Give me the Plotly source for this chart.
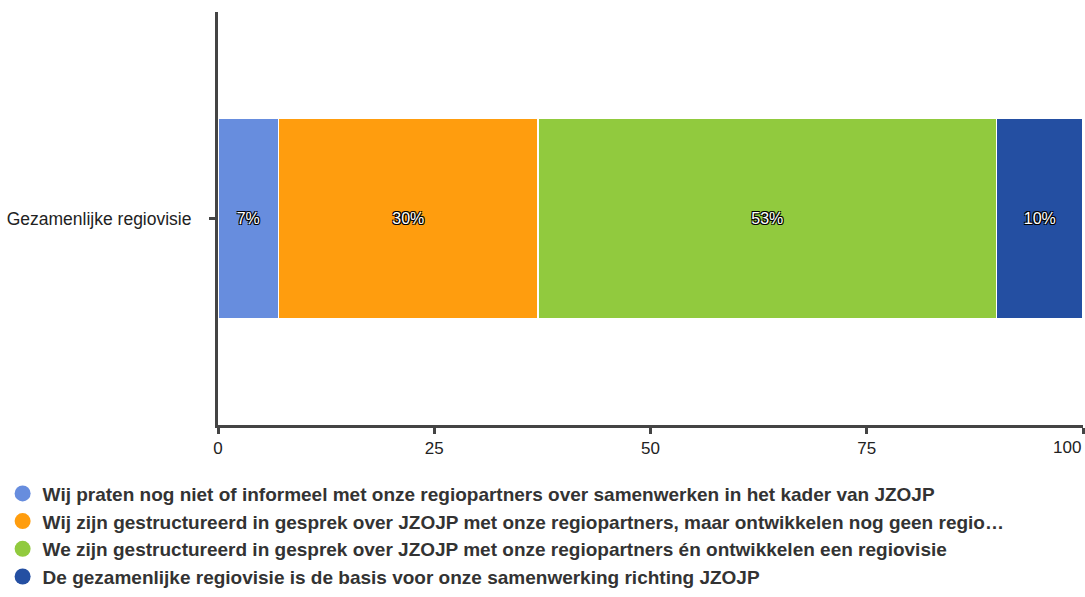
import plotly.graph_objects as go

categories = ['Gezamenlijke regiovisie']
answers = [
    'Wij praten nog niet of informeel met onze regiopartners over samenwerken in het kader van JZOJP',
    'Wij zijn gestructureerd in gesprek over JZOJP met onze regiopartners, maar ontwikkelen nog geen regio…',
    'We zijn gestructureerd in gesprek over JZOJP met onze regiopartners én ontwikkelen een regiovisie',
    'De gezamenlijke regiovisie is de basis voor onze samenwerking richting JZOJP',
]
percentages = [7, 30, 53, 10]
colors = ['#678DDE', '#FF9D0E', '#91CA3E', '#244FA2']
x_ticks = [0, 25, 50, 75, 100]

outline = '-1px -1px 0 #000, 1px -1px 0 #000, -1px 1px 0 #000, 1px 1px 0 #000'

fig = go.Figure()
for name, val, col in zip(answers, percentages, colors):
    fig.add_trace(go.Bar(
        y=categories, x=[val], orientation='h', name=name,
        marker=dict(color=col, line=dict(color='white', width=1.5)),
        text=[f'{val}%'], textposition='inside', insidetextanchor='middle',
        textfont=dict(family='Liberation Sans', size=16, color='white', shadow=outline),
        showlegend=False, hoverinfo='skip',
    ))

# circle markers for the legend
for name, col in zip(answers, colors):
    fig.add_trace(go.Scatter(
        x=[None], y=[None], mode='markers', name=name,
        marker=dict(symbol='circle', size=18, color=col),
    ))

# last tick label is pulled inside the chart, like the original
tick_text = [str(t) for t in x_ticks[:-1]] + ['']
fig.add_annotation(x=x_ticks[-1], xref='x', y=0, yref='paper', yanchor='top', xanchor='right',
                   yshift=-11, text=str(x_ticks[-1]), showarrow=False,
                   font=dict(family='Liberation Sans', size=17, color='#222'))

fig.update_layout(
    width=1085, height=597,
    barmode='stack', bargap=0.516,
    plot_bgcolor='white', paper_bgcolor='white',
    margin=dict(l=216, r=2, t=12, b=171),
    font=dict(family='Liberation Sans', color='#222'),
    xaxis=dict(range=[0, 100], tickvals=x_ticks, ticktext=tick_text, showgrid=False, zeroline=False,
               showline=True, linecolor='#444', linewidth=3,
               ticks='outside', ticklen=6, tickwidth=3, tickcolor='#444',
               tickfont=dict(size=17, color='#222')),
    yaxis=dict(showgrid=False, zeroline=False, showline=True, linecolor='#444', linewidth=3,
               ticks='outside', ticklen=6, tickwidth=3, tickcolor='#444',
               ticklabelstandoff=14,
               tickfont=dict(size=17.5, color='#222'), range=[-0.5, 0.5]),
    legend=dict(orientation='v', x=-0.249, xanchor='left', y=-0.12, yanchor='top',
                traceorder='normal',
                font=dict(family='Liberation Sans', size=19, color='#333', weight='bold'),
                itemwidth=30),
)

# drop the default body margin so the figure fills the window exactly
fig.write_html('out.html', config={'displayModeBar': False},
               post_script="document.body.style.margin='0';")
